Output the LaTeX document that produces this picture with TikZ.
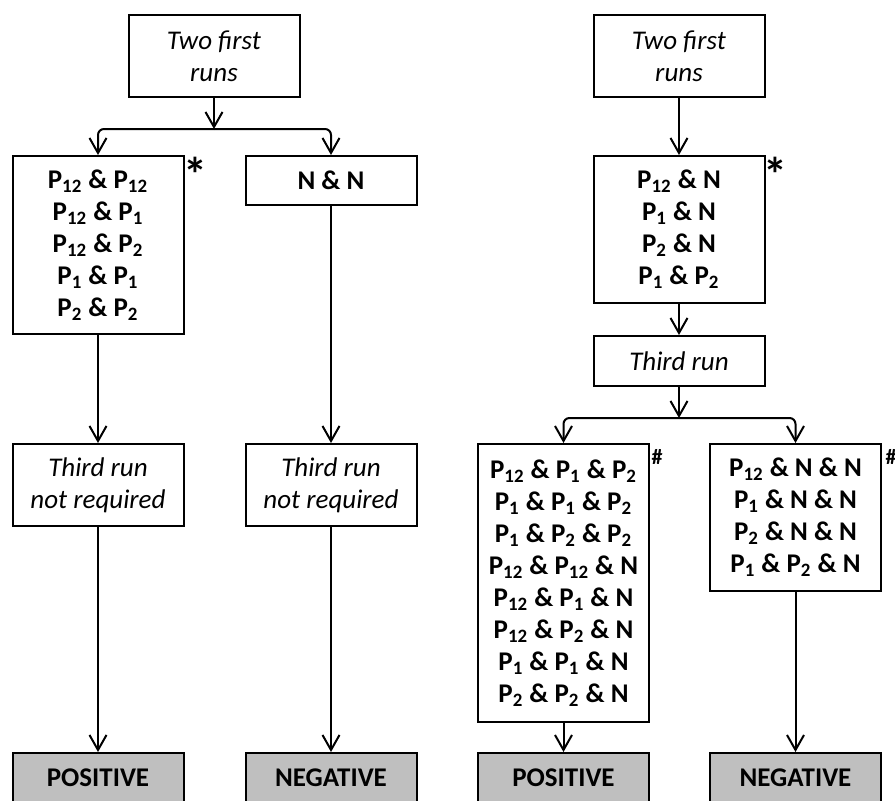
\documentclass[tikz,border=0pt]{standalone}
\usepackage{fontspec}
\setmainfont{Carlito}
\usetikzlibrary{arrows.meta}
\definecolor{resultgray}{gray}{0.75}
\newcommand{\Ps}[1]{P\textsubscript{#1}}

\begin{document}
\begin{tikzpicture}[x=0.5pt,y=-0.5pt,
        runbox/.style={draw,line width=1pt,minimum width=85.5pt,inner sep=0pt,align=center,font=\fontsize{13.5}{16}\selectfont\itshape},
        pairbox/.style={runbox,font=\fontsize{13.5}{16}\selectfont\bfseries},
        resultbox/.style={pairbox,fill=resultgray,minimum height=25pt},
        note/.style={inner sep=0pt,font=\bfseries},
        arr/.style={line width=1pt,-{Straight Barb[length=7.5pt,width=8.5pt,line width=1pt]}}]
        \useasboundingbox (0,0) rectangle (895,800);
        % left tree: two runs agree
        \node[runbox,minimum height=41pt] (twoL) at (214,56) {Two first\\runs};
        \coordinate (splitL) at (214,129);
        \node[pairbox,minimum height=89pt] (posPairs) at (98,245) {\Ps{12} \& \Ps{12}\\\Ps{12} \& \Ps{1}\\\Ps{12} \& \Ps{2}\\\Ps{1} \& \Ps{1}\\\Ps{2} \& \Ps{2}};
        \node[pairbox,minimum height=24.5pt] (negPair) at (331,180.5) {N \& N};
        \node[runbox,minimum height=41pt] (skipL) at (98,485) {Third run\\not required};
        \node[runbox,minimum height=41pt] (skipR) at (331,485) {Third run\\not required};
        \node[resultbox] (posL) at (98,778) {POSITIVE};
        \node[resultbox] (negL) at (331,778) {NEGATIVE};
        \node[note,font=\fontsize{24}{24}\selectfont\bfseries] (starL) at (195,174) {*};
        \draw[arr] (twoL) -- (splitL);
        \draw[arr,rounded corners=3pt] (splitL) -| (posPairs.north);
        \draw[arr,rounded corners=3pt] (splitL) -| (negPair.north);
        \draw[arr] (posPairs) -- (skipL);
        \draw[arr] (negPair) -- (skipR);
        \draw[arr] (skipL) -- (posL);
        \draw[arr] (skipR) -- (negL);
        % right tree: two runs disagree
        \node[runbox,minimum height=41pt] (twoR) at (679,56) {Two first\\runs};
        \node[pairbox,minimum height=73.5pt] (mixPairs) at (679,229.5) {\Ps{12} \& N\\\Ps{1} \& N\\\Ps{2} \& N\\\Ps{1} \& \Ps{2}};
        \node[runbox,minimum height=25pt] (third) at (679,361) {Third run};
        \coordinate (splitR) at (679,418);
        \node[pairbox,minimum height=139pt] (posTriples) at (563.5,583) {\Ps{12} \& \Ps{1} \& \Ps{2}\\\Ps{1} \& \Ps{1} \& \Ps{2}\\\Ps{1} \& \Ps{2} \& \Ps{2}\\\Ps{12} \& \Ps{12} \& N\\\Ps{12} \& \Ps{1} \& N\\\Ps{12} \& \Ps{2} \& N\\\Ps{1} \& \Ps{1} \& N\\\Ps{2} \& \Ps{2} \& N};
        \node[pairbox,minimum height=73.5pt] (negTriples) at (795.5,517.5) {\Ps{12} \& N \& N\\\Ps{1} \& N \& N\\\Ps{2} \& N \& N\\\Ps{1} \& \Ps{2} \& N};
        \node[resultbox] (posR) at (563.5,778) {POSITIVE};
        \node[resultbox] (negR) at (795.5,778) {NEGATIVE};
        \node[note,font=\fontsize{24}{24}\selectfont\bfseries] (starR) at (775,174) {*};
        \node[note,font=\fontsize{11}{11}\selectfont\bfseries] (hashL) at (657,457) {\#};
        \node[note,font=\fontsize{11}{11}\selectfont\bfseries] (hashR) at (891,457) {\#};
        \draw[arr] (twoR) -- (mixPairs);
        \draw[arr] (mixPairs) -- (third);
        \draw[arr] (third) -- (splitR);
        \draw[arr,rounded corners=3pt] (splitR) -| (posTriples.north);
        \draw[arr,rounded corners=3pt] (splitR) -| (negTriples.north);
        \draw[arr] (posTriples) -- (posR);
        \draw[arr] (negTriples) -- (negR);
    \end{tikzpicture}
\end{document}
